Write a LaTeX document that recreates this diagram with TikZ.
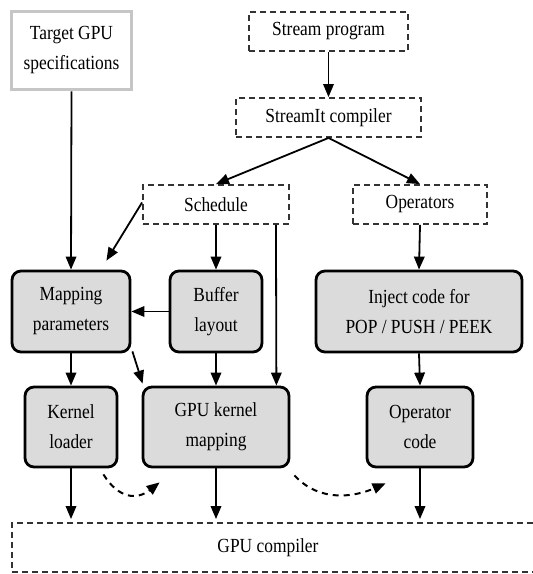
\documentclass[tikz,border=0pt]{standalone}
\usepackage{fontspec}
\setmainfont{Liberation Serif}[FakeStretch=0.87]
\usetikzlibrary{arrows.meta,calc}
\begin{document}
\begin{tikzpicture}[x=1pt,y=-1pt,
  font=\fontsize{20}{30}\selectfont,
  every node/.style={align=center,inner sep=0pt},
  specbox/.style={draw=gray!45,line width=3.5pt,fill=white},
  dashbox/.style={draw=black!80,line width=1.9pt,dash pattern=on 6pt off 4pt},
  procbox/.style={draw=black,line width=2.8pt,rounded corners=9pt,fill=gray!28},
  flow/.style={line width=1.8pt,-{Triangle[length=13pt,width=10.5pt]}},
  hint/.style={line width=2pt,dash pattern=on 6pt off 5pt,-{Triangle[length=13pt,width=10.5pt]}}
]
\useasboundingbox[fill=white] (0,0) rectangle (533,574);
\begin{scope}
\clip (0,0) rectangle (533,574);

% inputs and front end
\node[specbox,minimum width=120pt,minimum height=78pt] (tgt) at (71.5,50.5) {Target GPU\\specifications};
\node[dashbox,minimum width=159pt,minimum height=39pt] (sp) at (328.5,31.5) {Stream program};
\node[dashbox,minimum width=185pt,minimum height=39pt] (sc) at (328.5,117.5) {StreamIt compiler};
\node[dashbox,minimum width=146pt,minimum height=39pt] (sch) at (216,204.5) {Schedule};
\node[dashbox,minimum width=134pt,minimum height=39pt] (ops) at (420,204.5) {Operators};

% processing stages
\node[procbox,minimum width=118pt,minimum height=81pt] (map) at (71,311.5) {Mapping\\parameters};
\node[procbox,minimum width=92pt,minimum height=81pt] (buf) at (216,311.5) {Buffer\\layout};
\node[procbox,minimum width=206pt,minimum height=81pt] (inj) at (419,311.5) {Inject code for\\POP / PUSH / PEEK};
\node[procbox,minimum width=92pt,minimum height=80pt] (kl) at (71,427) {Kernel\\loader};
\node[procbox,minimum width=146pt,minimum height=80pt] (gkm) at (216,427) {GPU kernel\\mapping};
\node[procbox,minimum width=106pt,minimum height=80pt] (oc) at (420,427) {Operator\\code};

% back end
\node[dashbox,minimum width=536pt,minimum height=49pt,
      label={[xshift=-12pt]center:GPU compiler}] (gpuc) at (280,547.5) {};

% connectors
\draw[flow] (tgt.south) -- (map.north);
\draw[flow] (sp.south) -- (sc.north);
\draw[flow] (sc.south) -- (sch.north);
\draw[flow] (sc.south) -- (ops.north);
\draw[flow] ($(sch.west)+(0,-2)$) -- ($(map.north east)+(-25,-9)$);
\draw[flow] (sch.south) -- (buf.north);
\draw[flow] ($(sch.south east)+(-14,0)$) -- ($(gkm.north east)+(-14,0)$);
\draw[flow] (buf.west) -- (map.east);
\draw[flow] (ops.south) -- (inj.north);
\draw[flow] (map.south) -- (kl.north);
\draw[flow] ($(map.south east)+(1,-2)$) -- ($(gkm.north west)+(1,-2)$);
\draw[flow] (buf.south) -- (gkm.north);
\draw[flow] (inj.south) -- (oc.north);
\draw[flow] (kl.south) -- ($(kl.south |- gpuc.north)+(0,-3)$);
\draw[flow] (gkm.south) -- ($(gkm.south |- gpuc.north)+(0,-3)$);
\draw[flow] (oc.south) -- ($(oc.south |- gpuc.north)+(0,-3)$);

% dashed hand-offs between stages
\draw[hint] ($(kl.south east)+(-15,6)$) .. controls ($(kl.south east)+(0,30)$) and ($(gkm.south west)+(-5,32)$) .. ($(gkm.south west)+(18,14)$);
\draw[hint] ($(gkm.south east)+(4,7)$) .. controls ($(gkm.south east)+(30,35)$) and ($(oc.south west)+(-10,28)$) .. ($(oc.south west)+(20,15)$);
\end{scope}
\end{tikzpicture}
\end{document}
